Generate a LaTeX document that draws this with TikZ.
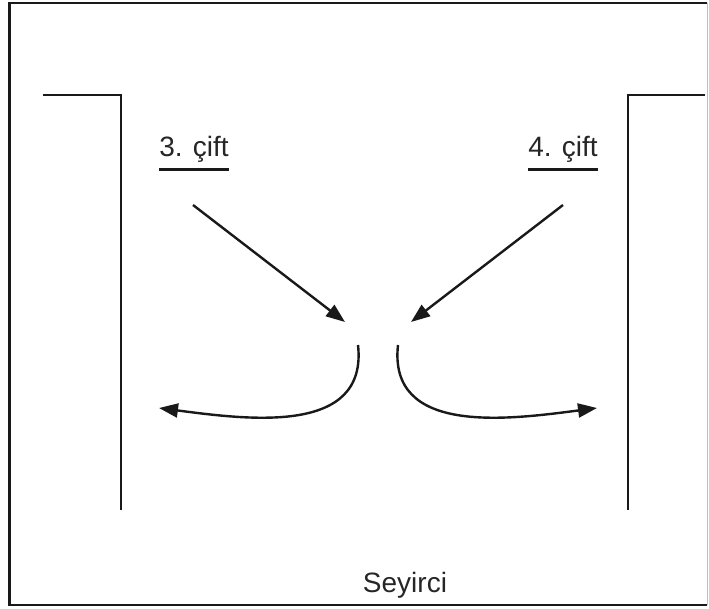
\documentclass[tikz,border=0pt]{standalone}
\usepackage{fontspec}
\setmainfont{Liberation Sans}
\usetikzlibrary{arrows.meta}
\begin{document}
\begin{tikzpicture}[x=1pt,y=-1pt,
  wall/.style={line width=2.8pt,black!90},
  frame/.style={line width=2.8pt,black!90},
  arr/.style={line width=2.4pt,black!90,-{Triangle[length=19pt,width=14pt]}},
  lbl/.style={font=\fontsize{28}{30}\selectfont,inner sep=0pt,text=black!85},
  uline/.style={line width=2.8pt,black!90}]
\useasboundingbox (0,0) rectangle (709,609);
% frame
\draw[frame] (707,3) -- (9.5,3) -- (9.5,605) -- (707,605);
\draw[line width=1pt,black!25] (707.5,3) -- (707.5,605);
% walls
\draw[wall] (43,95) -- (121,95) -- (121,510);
\draw[wall] (705,95) -- (628,95) -- (628,510);
% labels
\node[lbl,anchor=base] (t3) at (194,157) {3. çift};
\node[lbl,anchor=base] (t4) at (563,157) {4. çift};
\draw[uline] ([yshift=-6.5pt]t3.south west) -- ([yshift=-6.5pt]t3.south east);
\draw[uline] ([yshift=-6.5pt]t4.south west) -- ([yshift=-6.5pt]t4.south east);
\node[lbl,anchor=base] (aud) at (405,592) {Seyirci};
% arrow endpoints
\coordinate (a3s) at (193,205);
\coordinate (a3e) at (345,322);
\coordinate (a4s) at (563,205);
\coordinate (a4e) at (411,322);
\coordinate (c3s) at (358,345);
\coordinate (c3e) at (159,408);
\coordinate (c4s) at (398,345);
\coordinate (c4e) at (597,408);
\draw[arr] (a3s) -- (a3e);
\draw[arr] (a4s) -- (a4e);
\draw[arr] (c3s) .. controls (368,435) and (250,420) .. (c3e);
\draw[arr] (c4s) .. controls (388,435) and (506,420) .. (c4e);
\end{tikzpicture}
\end{document}
